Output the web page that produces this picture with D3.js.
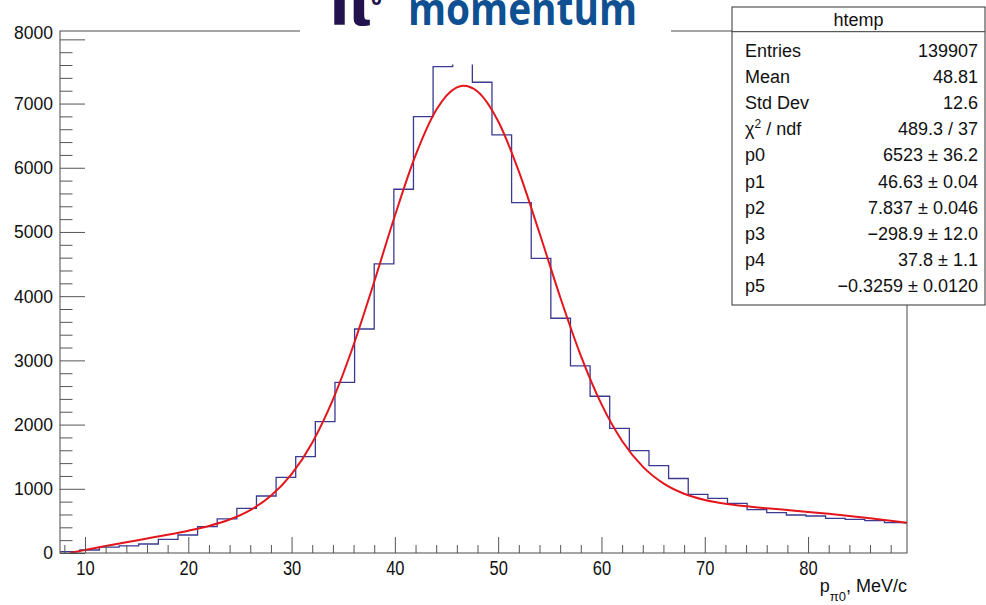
<!DOCTYPE html>
<html><head><meta charset="utf-8">
<script src="https://cdn.jsdelivr.net/npm/d3@7"></script>
<style>
html,body{margin:0;padding:0;background:#fff;}
svg{display:block;font-family:"Liberation Sans",Arial,Helvetica,sans-serif;}
</style></head><body>
<svg id="chart" width="986" height="605"></svg>
<script>
// ---- data ----
const binLowEdges = [7.6, 9.5, 11.4, 13.3, 15.2, 17.1, 19.0, 20.9, 22.8, 24.7, 26.6, 28.5, 30.4, 32.3, 34.2, 36.1, 38.0, 39.9, 41.8, 43.7, 45.6, 47.5, 49.4, 51.3, 53.2, 55.1, 57.0, 58.9, 60.8, 62.7, 64.6, 66.5, 68.4, 70.3, 72.2, 74.1, 76.0, 77.9, 79.8, 81.7, 83.6, 85.5, 87.4, 89.3];
const binWidth = 1.9;
const binCounts = [20, 47, 93, 110, 140, 213, 280, 410, 530, 696, 888, 1179, 1500, 2045, 2659, 3489, 4502, 5665, 6796, 7575, 7740, 7332, 6511, 5457, 4590, 3656, 2913, 2441, 1942, 1594, 1360, 1160, 914, 852, 774, 675, 628, 592, 576, 540, 525, 503, 472, 470];

const fitX = [8.55, 9, 10, 12, 14, 16, 18, 20, 22, 24, 26, 28, 30, 32, 34, 36, 38, 40, 42, 44, 46, 46.63, 48, 50, 52, 54, 56, 58, 60, 62, 64, 66, 68, 70, 72, 74, 76, 78, 80, 82, 84, 86, 88, 89.58];
const fitY = [0, 14.9, 46.6, 108.2, 167.5, 225.6, 284.2, 347.0, 421.7, 521.4, 667.8, 890.8, 1228.6, 1718.5, 2389.1, 3240.2, 4224.5, 5251.9, 6192.4, 6899.6, 7252.3, 7278.1, 7188.7, 6723.6, 5943.9, 4983.7, 3987.6, 3074.4, 2317.7, 1745.0, 1344.9, 1083.9, 922.9, 826.7, 767.8, 728.4, 697.3, 668.9, 640.0, 609.6, 576.9, 541.5, 503.7, 472.0];

const xMajorTicks = [10, 20, 30, 40, 50, 60, 70, 80];
const xMinorTicks = [8, 12, 14, 16, 18, 22, 24, 26, 28, 32, 34, 36, 38, 42, 44, 46, 48, 52, 54, 56, 58, 62, 64, 66, 68, 72, 74, 76, 78, 82, 84, 86, 88];
const yMajorTicks = [0, 1000, 2000, 3000, 4000, 5000, 6000, 7000, 8000];
const yMinorTicks = [200, 400, 600, 800, 1200, 1400, 1600, 1800, 2200, 2400, 2600, 2800, 3200, 3400, 3600, 3800, 4200, 4400, 4600, 4800, 5200, 5400, 5600, 5800, 6200, 6400, 6600, 6800, 7200, 7400, 7600, 7800];

const statsTitle = "htemp";
const statsLabels = ["Entries", "Mean", "Std Dev", "χ^2 / ndf", "p0", "p1", "p2", "p3", "p4", "p5"];
const statsValues = ["139907", "48.81", "12.6", "489.3 / 37", "6523 ± 36.2", "46.63 ± 0.04", "7.837 ± 0.046", "\u2212298.9 ± 12.0", "37.8 ± 1.1", "\u22120.3259 ± 0.0120"];

// ---- layout ----
const frame = {left: 60, right: 907, top: 31, bottom: 553};
const x = d3.scaleLinear().domain([7.58, 89.58]).range([frame.left, frame.right]);
const y = d3.scaleLinear().domain([0, 8130]).range([frame.bottom, frame.top]);

const svg = d3.select("#chart");
svg.append("rect").attr("width", 986).attr("height", 605).attr("fill", "#fff");
svg.append("defs").append("clipPath").attr("id", "plotclip")
  .append("rect").attr("x", frame.left).attr("y", frame.top)
  .attr("width", frame.right - frame.left).attr("height", frame.bottom - frame.top);

// histogram
const histPts = binLowEdges.map((lo, i) => [lo, binCounts[i]]);
histPts.push([binLowEdges[binLowEdges.length - 1] + binWidth, binCounts[binCounts.length - 1]]);
const histLine = d3.line().x(d => x(d[0])).y(d => y(d[1])).curve(d3.curveStepAfter);
svg.append("path").attr("d", histLine(histPts))
  .attr("fill", "none").attr("stroke", "#3a3a92").attr("stroke-width", 1.3)
  .attr("clip-path", "url(#plotclip)");

// fit
const fitPts = fitX.map((v, i) => [v, fitY[i]]);
const fitLine = d3.line().x(d => x(d[0])).y(d => y(d[1])).curve(d3.curveMonotoneX);
svg.append("path").attr("d", fitLine(fitPts))
  .attr("fill", "none").attr("stroke", "#e3161c").attr("stroke-width", 2)
  .attr("clip-path", "url(#plotclip)");

// axes
const tickColor = "#555";
function styleAxis(g) {
  g.select(".domain").remove();
  g.selectAll(".tick line").attr("stroke", tickColor).attr("stroke-width", 1);
}
svg.append("g").attr("transform", `translate(0,${frame.bottom})`)
  .call(d3.axisBottom(x).tickValues(xMinorTicks).tickSize(-8).tickFormat(""))
  .call(styleAxis);
const gx = svg.append("g").attr("transform", `translate(0,${frame.bottom})`)
  .call(d3.axisBottom(x).tickValues(xMajorTicks).tickSize(-16).tickFormat(d3.format("d")))
  .call(styleAxis);
gx.selectAll(".tick text")
  .attr("y", null).attr("dy", null)
  .attr("transform", "translate(0,560.5) scale(1,1.22)")
  .attr("y", 0).attr("dy", "0.72em")
  .style("font-size", "16.5px").style("font-family", "'Liberation Sans',Arial,sans-serif")
  .attr("fill", "#111");
// fix translation: ticks are in group translated by frame.bottom
gx.selectAll(".tick text").attr("transform", `translate(0,${560.5 - frame.bottom}) scale(1,1.22)`);

svg.append("g").attr("transform", `translate(${frame.left},0)`)
  .call(d3.axisLeft(y).tickValues(yMinorTicks).tickSize(-12.5).tickFormat(""))
  .call(styleAxis);
const gy = svg.append("g").attr("transform", `translate(${frame.left},0)`)
  .call(d3.axisLeft(y).tickValues(yMajorTicks).tickSize(-25).tickPadding(7).tickFormat(d3.format("d")))
  .call(styleAxis);
gy.selectAll(".tick text")
  .style("font-size", "17.5px").style("font-family", "'Liberation Sans',Arial,sans-serif")
  .attr("fill", "#111")
  .attr("dy", d => d === 8000 ? "-0.05em" : "0.34em");

// frame
svg.append("rect").attr("x", frame.left).attr("y", frame.top)
  .attr("width", frame.right - frame.left).attr("height", frame.bottom - frame.top)
  .attr("fill", "none").attr("stroke", "#4a4a4a").attr("stroke-width", 1);

// x axis title
const xt = svg.append("text").attr("x", frame.right).attr("y", 591.5)
  .attr("text-anchor", "end").style("font-size", "18px").attr("fill", "#111");
xt.append("tspan").text("p");
xt.append("tspan").attr("dy", 9).style("font-size", "13px").text("π0");
xt.append("tspan").attr("dy", -9).text(", MeV/c");

// title overlay (white box)
svg.append("rect").attr("x", 300).attr("y", 0).attr("width", 371).attr("height", 64.5).attr("fill", "#fff");
svg.append("text").attr("x", 326).attr("y", 25)
  .style("font-family", "'DejaVu Sans',sans-serif").style("font-weight", "bold").style("font-size", "60px")
  .attr("fill", "#22134f").text("π");
svg.append("text").attr("x", 371).attr("y", 5)
  .style("font-family", "'Open Sans',sans-serif").style("font-weight", "bold").style("font-size", "19px")
  .attr("fill", "#22134f").text("0");
svg.append("text").attr("x", 408).attr("y", 25)
  .style("font-family", "'Open Sans',sans-serif").style("font-weight", "bold").style("font-size", "44px")
  .attr("textLength", 229).attr("lengthAdjust", "spacingAndGlyphs")
  .attr("fill", "#0e5092").text("momentum");

// stats box
const box = {x: 732, y: 7, w: 253, h: 298, header: 31.7};
svg.append("rect").attr("x", box.x).attr("y", box.y).attr("width", box.w).attr("height", box.h)
  .attr("fill", "#fff").attr("stroke", "#333").attr("stroke-width", 1);
svg.append("line").attr("x1", box.x).attr("x2", box.x + box.w).attr("y1", box.header).attr("y2", box.header)
  .attr("stroke", "#333").attr("stroke-width", 1);
svg.append("text").attr("x", box.x + box.w / 2).attr("y", 25.5).attr("text-anchor", "middle")
  .style("font-size", "18px").attr("fill", "#111").text(statsTitle);
statsLabels.forEach((lab, i) => {
  const by = 56.5 + i * 26.2;
  const t = svg.append("text").attr("x", 745).attr("y", by).style("font-size", "18px").attr("fill", "#111");
  if (lab.includes("^")) {
    const [a, rest] = lab.split("^");
    t.append("tspan").text(a);
    t.append("tspan").attr("dy", -7).style("font-size", "12px").text(rest.charAt(0));
    t.append("tspan").attr("dy", 7).text(rest.slice(1));
  } else {
    t.text(lab);
  }
  svg.append("text").attr("x", 978).attr("y", by).attr("text-anchor", "end")
    .style("font-size", "18px").attr("fill", "#111").text(statsValues[i]);
});
</script>
</body></html>
